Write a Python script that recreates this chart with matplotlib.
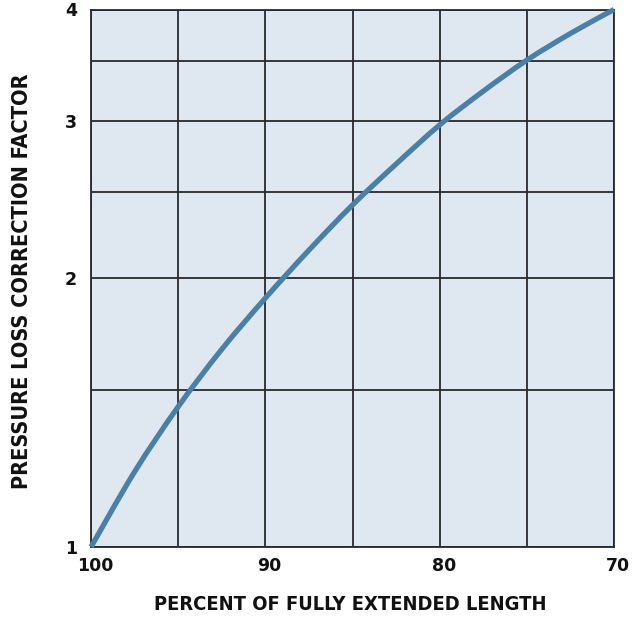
import matplotlib
matplotlib.use("Agg")
import numpy as np
import matplotlib.pyplot as plt
from matplotlib.path import Path
from matplotlib.patches import PathPatch
from matplotlib.transforms import ScaledTranslation
from matplotlib.ticker import FixedLocator, NullLocator, FixedFormatter

# Data
percent_length = [100, 97.5, 95, 92.5, 90, 87.5, 85, 82.5, 80, 77.5, 75, 72.5, 70]
correction_factor = [1.0, 1.214, 1.436, 1.665, 1.90, 2.15, 2.416, 2.685, 2.97, 3.24, 3.51, 3.76, 4.0]

x_ticks = [100, 90, 80, 70]
x_tick_labels = ["100", "90", "80", "70"]
x_grid = [95, 85, 75]
y_ticks = [1, 2, 3, 4]
y_tick_labels = ["1", "2", "3", "4"]
y_grid = [1.5, 2.5, 3.5]

fig = plt.figure(figsize=(6.32, 6.17), dpi=100)
ax = fig.add_axes([91/632, 1-547/617, (614-91)/632, (547-9.5)/617])
ax.set_facecolor("#dfe8f0")

ax.set_yscale("log")
ax.set_xlim(100, 70)
ax.set_ylim(1, 4)

grid_color = "#262a2e"
for gx in x_ticks + x_grid:
    ax.axvline(gx, color=grid_color, lw=1.3, zorder=1)
for gy in y_ticks + y_grid:
    ax.axhline(gy, color=grid_color, lw=1.3, zorder=1)

# Smooth curve through the data points (Catmull-Rom as cubic Beziers, in x / log-y space)
px = np.array(percent_length, dtype=float)
py = np.log10(np.array(correction_factor, dtype=float))
n = len(px)
verts = [(px[0], 10 ** py[0])]
codes = [Path.MOVETO]
for i in range(n - 1):
    p0 = (px[max(i - 1, 0)], py[max(i - 1, 0)])
    p1 = (px[i], py[i])
    p2 = (px[i + 1], py[i + 1])
    p3 = (px[min(i + 2, n - 1)], py[min(i + 2, n - 1)])
    c1 = (p1[0] + (p2[0] - p0[0]) / 6, p1[1] + (p2[1] - p0[1]) / 6)
    c2 = (p2[0] - (p3[0] - p1[0]) / 6, p2[1] - (p3[1] - p1[1]) / 6)
    for c in (c1, c2, p2):
        verts.append((c[0], 10 ** c[1]))
    codes += [Path.CURVE4] * 3
curve = PathPatch(Path(verts, codes), facecolor="none", edgecolor="#4a7fa7",
                  lw=3.8, capstyle="butt", zorder=3, clip_on=False,
                  transform=ax.transData)
ax.add_patch(curve)

for s in ax.spines.values():
    s.set_color(grid_color)
    s.set_linewidth(1.3)

ax.xaxis.set_major_locator(FixedLocator(x_ticks))
ax.xaxis.set_major_formatter(FixedFormatter(x_tick_labels))
ax.xaxis.set_minor_locator(NullLocator())
ax.yaxis.set_major_locator(FixedLocator(y_ticks))
ax.yaxis.set_major_formatter(FixedFormatter(y_tick_labels))
ax.yaxis.set_minor_locator(NullLocator())
ax.tick_params(length=0, labelsize=12.5, colors="#111111")
ax.tick_params(axis="x", pad=7)
ax.tick_params(axis="y", pad=10)
shift = ScaledTranslation(4 / 100, 0, fig.dpi_scale_trans)
for lab in ax.get_xticklabels():
    lab.set_transform(lab.get_transform() + shift)
for lab in ax.get_xticklabels() + ax.get_yticklabels():
    lab.set_fontfamily("DejaVu Sans")
    lab.set_fontweight("bold")

label_kw = dict(ha="center", va="center", fontweight="bold",
                family="DejaVu Sans", fontstretch="condensed", color="#111111")
fig.text(350/632, 1-604.5/617, "PERCENT OF FULLY EXTENDED LENGTH", fontsize=14.4, **label_kw)
fig.text(22.5/632, 1-281/617, "PRESSURE LOSS CORRECTION FACTOR", rotation=90, fontsize=15.6, **label_kw)

fig.savefig("out.png", dpi=100, facecolor="white")
